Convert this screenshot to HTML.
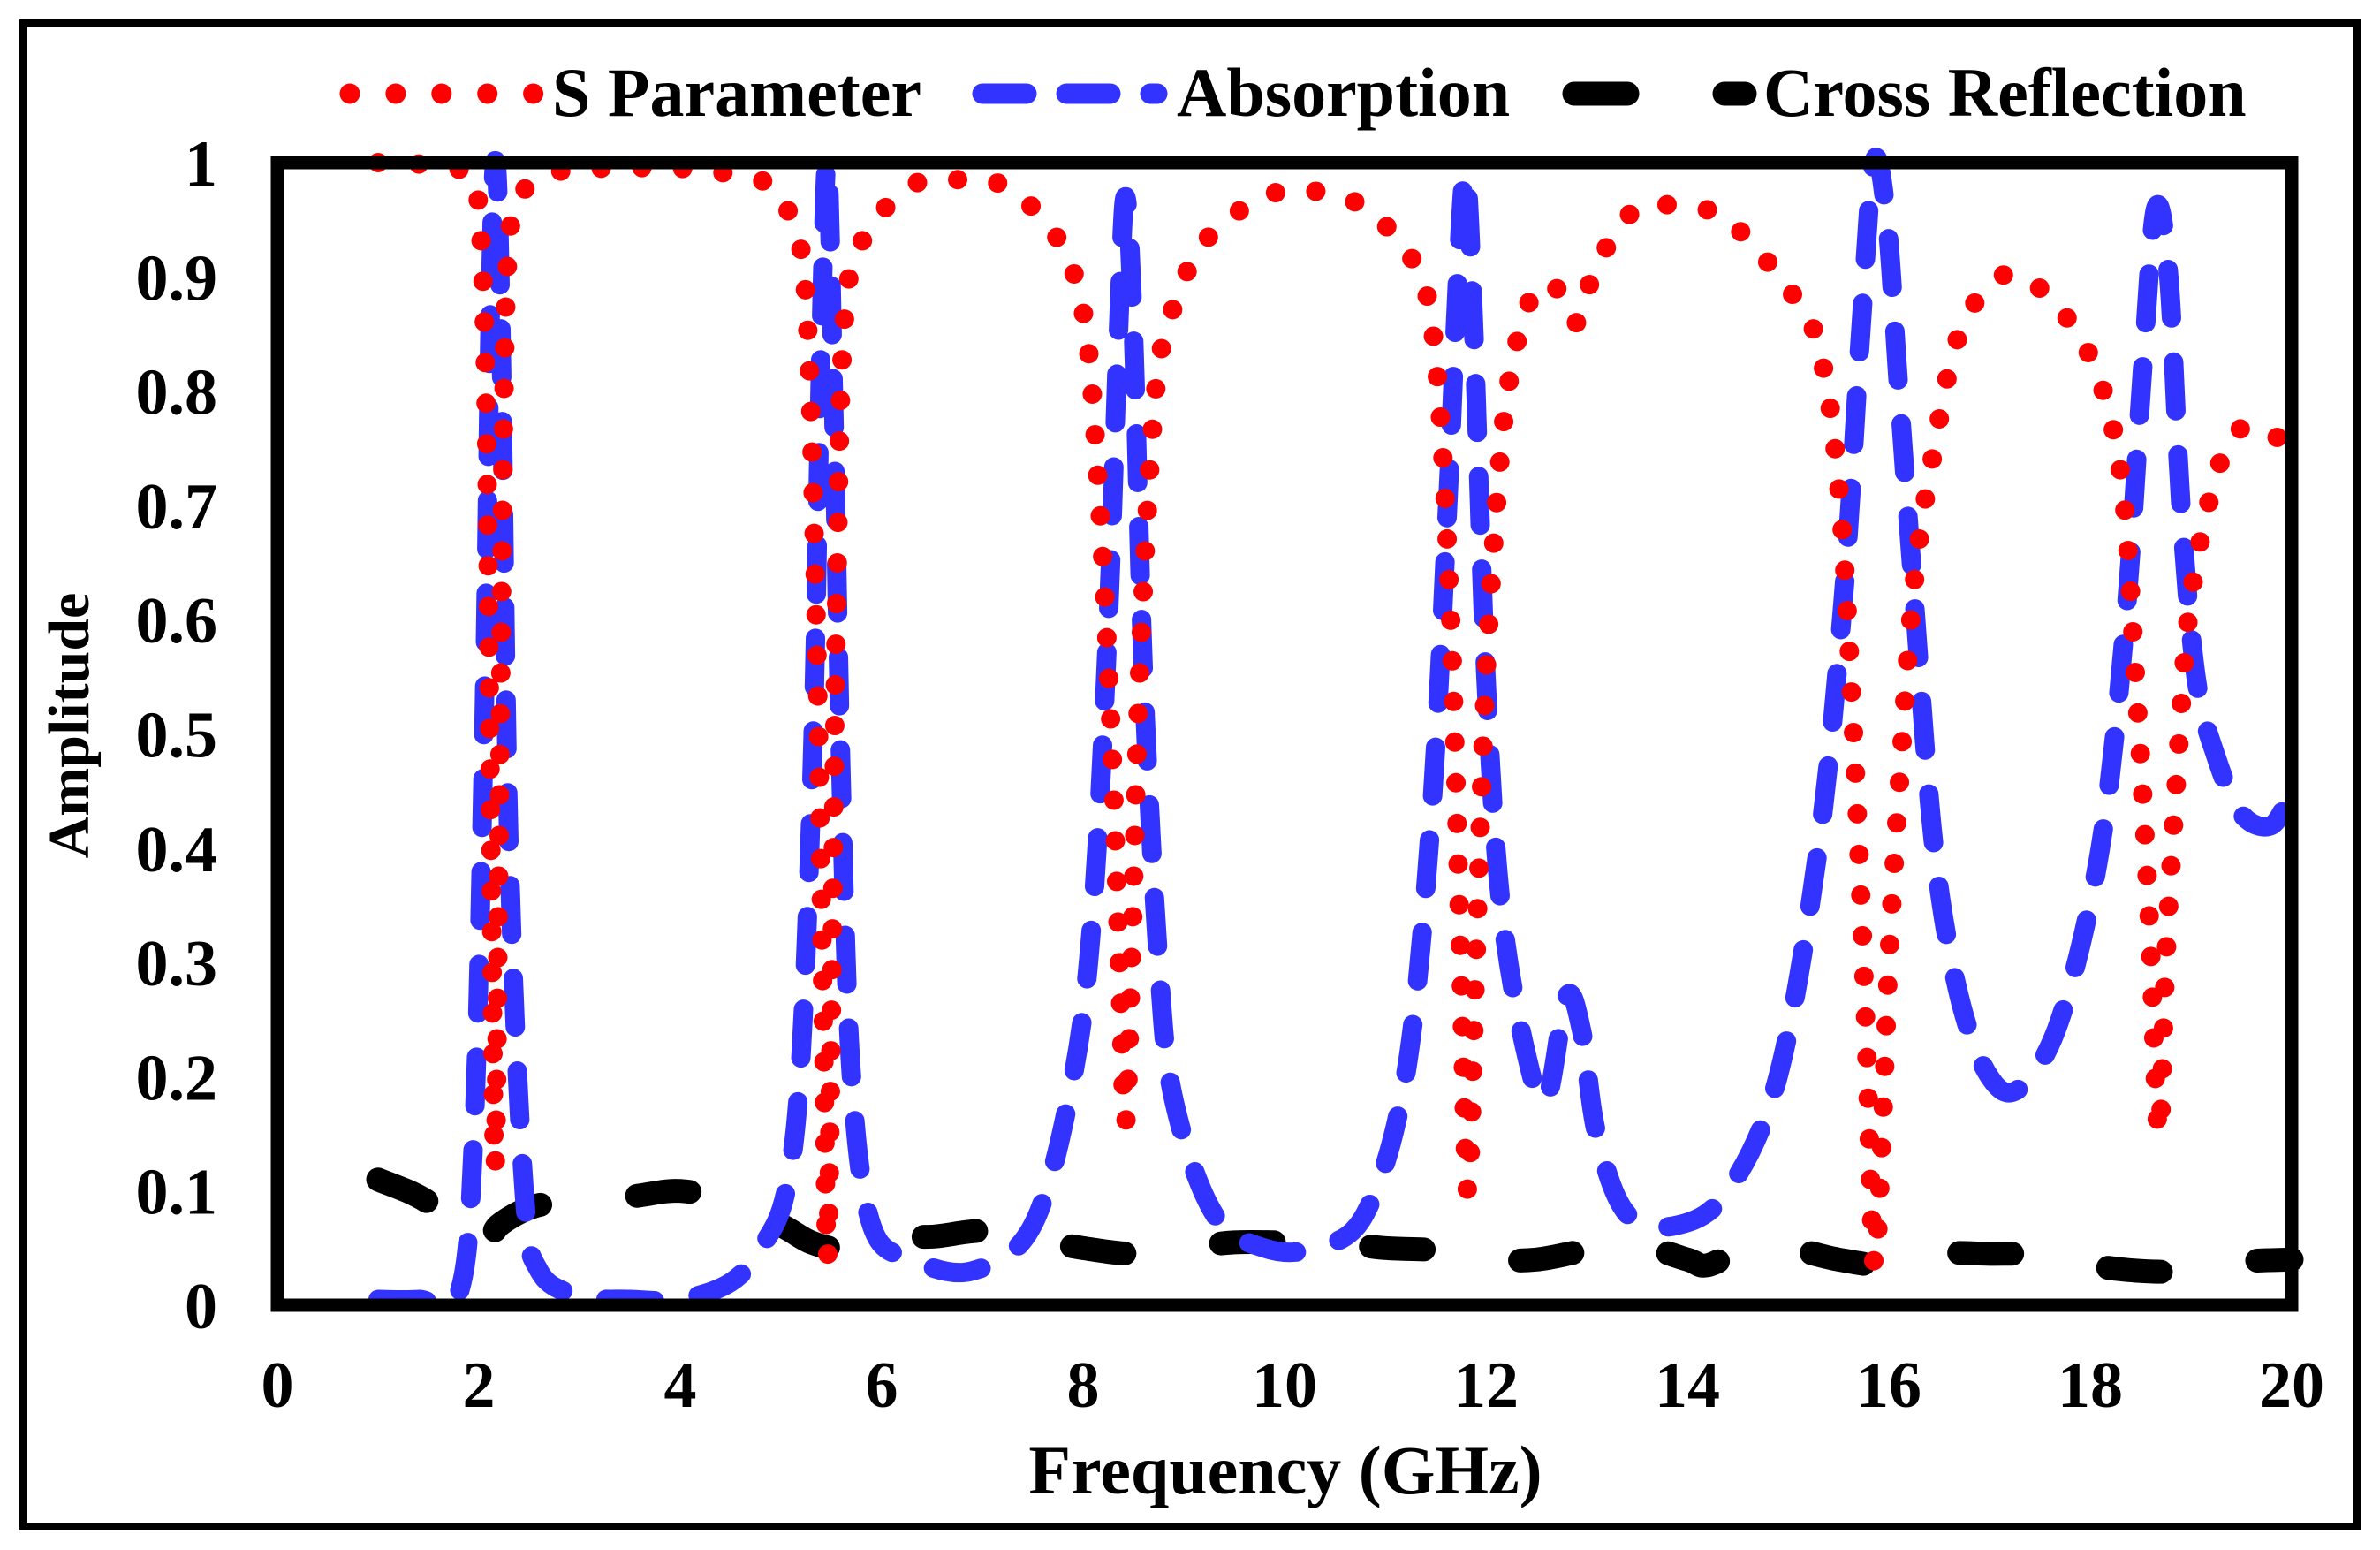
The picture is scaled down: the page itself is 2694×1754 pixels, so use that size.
<!DOCTYPE html>
<html><head><meta charset="utf-8"><style>
html,body{margin:0;padding:0;background:#fff}
svg{display:block}
text{font-family:"Liberation Serif",serif;font-weight:bold;fill:#000}
</style></head><body>
<svg id="chart" width="2694" height="1754" viewBox="0 0 2694 1754" xmlns="http://www.w3.org/2000/svg">
<rect x="26" y="26" width="2642" height="1701" fill="#fff" stroke="#000" stroke-width="8"/>
<g id="legend">
 <g>
  <line x1="396" y1="106" x2="604" y2="106" stroke="#f00" stroke-width="23" stroke-linecap="round" stroke-dasharray="0 51.9"/>
  <text x="625" y="131" font-size="78">S Parameter</text>
 </g>
 <g>
  <line x1="1112" y1="106" x2="1310" y2="106" stroke="#3333ff" stroke-width="23" stroke-linecap="round" stroke-dasharray="50 45"/>
  <text x="1332" y="131" font-size="78">Absorption</text>
 </g>
 <g>
  <line x1="1782" y1="106" x2="1975" y2="106" stroke="#000" stroke-width="27" stroke-linecap="round" stroke-dasharray="60 110"/>
  <text x="1996" y="131" font-size="78">Cross Reflection</text>
 </g>
</g>
<g id="ticks"></g>
<g id="series"></g>
<rect x="314" y="184" width="2280" height="1293" fill="none" stroke="#000" stroke-width="15"/>
<text x="1455" y="1690" font-size="78" text-anchor="middle">Frequency (GHz)</text>
<text x="0" y="0" font-size="66" text-anchor="middle" transform="translate(100,821) rotate(-90)">Amplitude</text>
</svg>
<script>
const xTicks=[0,2,4,6,8,10,12,14,16,18,20];
const yTicks=[0,0.1,0.2,0.3,0.4,0.5,0.6,0.7,0.8,0.9,1];
const yTickLabels=["0","0.1","0.2","0.3","0.4","0.5","0.6","0.7","0.8","0.9","1"];
const sFreq=[1,1.5,1.9,2.0,2.07,2.12,2.16,2.2,2.25,2.3,2.4,2.7,3.2,4,4.5,4.9,5.1,5.25,5.35,5.42,5.46,5.5,5.55,5.62,5.8,6.3,6.8,7.2,7.7,8.0,8.15,8.28,8.36,8.42,8.48,8.56,8.7,8.85,9.2,9.8,10.3,10.8,11.3,11.5,11.65,11.75,11.82,11.9,12.0,12.15,12.3,12.5,12.7,12.9,13.1,13.5,14.0,14.4,15.0,15.3,15.5,15.65,15.77,15.85,15.92,16.0,16.1,16.25,16.45,16.7,17.1,17.5,18.0,18.3,18.45,18.58,18.68,18.75,18.85,19.0,19.3,19.6,20];
const sVals=[1.0,0.998,0.99,0.96,0.8,0.4,0.12,0.4,0.8,0.93,0.97,0.99,0.995,0.995,0.99,0.98,0.95,0.88,0.6,0.25,0.04,0.25,0.6,0.85,0.93,0.98,0.985,0.98,0.94,0.87,0.72,0.5,0.3,0.16,0.3,0.55,0.78,0.86,0.93,0.97,0.975,0.96,0.91,0.83,0.6,0.3,0.1,0.3,0.55,0.75,0.84,0.89,0.89,0.86,0.91,0.96,0.96,0.95,0.89,0.84,0.72,0.5,0.25,0.04,0.12,0.3,0.45,0.63,0.75,0.85,0.9,0.89,0.83,0.73,0.55,0.35,0.15,0.3,0.45,0.62,0.74,0.77,0.75];
const aFreq=[1,1.4,1.8,1.95,2.05,2.12,2.17,2.22,2.3,2.45,2.6,3,3.5,4,4.5,4.8,5.05,5.2,5.32,5.4,5.46,5.52,5.6,5.7,5.9,6.3,6.9,7.5,7.9,8.1,8.25,8.35,8.42,8.5,8.6,8.75,8.9,9.3,9.8,10.3,10.8,11.2,11.45,11.62,11.72,11.8,11.88,12.0,12.15,12.4,12.6,12.8,12.95,13.1,13.4,13.9,14.4,14.9,15.3,15.55,15.72,15.85,15.98,16.1,16.25,16.45,16.7,17.0,17.3,17.7,18.1,18.35,18.52,18.65,18.78,18.9,19.05,19.25,19.5,19.8,20];
const aVals=[0.005,0.005,0.01,0.15,0.5,0.9,1.0,0.85,0.4,0.1,0.03,0.008,0.005,0.005,0.02,0.05,0.1,0.22,0.5,0.85,1.0,0.8,0.45,0.2,0.07,0.04,0.03,0.07,0.2,0.35,0.6,0.85,0.97,0.85,0.55,0.3,0.18,0.08,0.05,0.05,0.08,0.2,0.42,0.7,0.9,0.99,0.85,0.55,0.35,0.22,0.18,0.27,0.24,0.15,0.08,0.07,0.1,0.2,0.4,0.62,0.85,1.0,0.95,0.8,0.62,0.4,0.27,0.2,0.19,0.25,0.4,0.6,0.82,0.96,0.9,0.7,0.55,0.48,0.43,0.42,0.45];
const cFreq=[1,1.5,2.0,2.2,2.5,2.8,3.5,4,4.5,5.0,5.3,5.6,6,6.5,7,7.5,8,8.5,9,9.5,10,10.5,11,11.5,12,12.5,13,13.5,14,14.2,14.6,15,15.5,16,16.5,17,17.5,18,18.5,19,19.5,20];
const cVals=[0.11,0.09,0.05,0.07,0.085,0.09,0.095,0.1,0.09,0.07,0.055,0.05,0.06,0.06,0.065,0.058,0.05,0.045,0.05,0.055,0.055,0.055,0.05,0.048,0.04,0.04,0.048,0.052,0.04,0.035,0.05,0.05,0.04,0.035,0.045,0.045,0.044,0.035,0.03,0.03,0.038,0.04];
const NS="http://www.w3.org/2000/svg";
const X0=314,X1=2594,Y0=1477,Y1=184;
function xs(v){return X0+(v-0)/(20-0)*(X1-X0);}
function ys(v){return Y0-(v-0)/(1-0)*(Y0-Y1);}
const ticks=document.getElementById('ticks');
xTicks.forEach(function(t){
 const e=document.createElementNS(NS,'text');
 
 
 e.setAttribute('x',xs(t));e.setAttribute('y',1592);
 e.setAttribute('font-size','74');e.setAttribute('text-anchor','middle');
 e.textContent=String(t);ticks.appendChild(e);
});
yTicks.forEach(function(t,i){
 const e=document.createElementNS(NS,'text');
 
 
 e.setAttribute('x',246);e.setAttribute('y',ys(t)+26);
 e.setAttribute('font-size','74');e.setAttribute('text-anchor','end');
 e.textContent=yTickLabels[i];ticks.appendChild(e);
});
function pathD(f,v){
 const p=f.map(function(x,i){return [xs(x),ys(v[i])];});
 let d='M'+p[0][0]+','+p[0][1];
 for(let i=0;i<p.length-1;i++){
  const p0=p[Math.max(0,i-1)],p1=p[i],p2=p[i+1],p3=p[Math.min(p.length-1,i+2)];
  const c1x=p1[0]+(p2[0]-p0[0])/6,c1y=p1[1]+(p2[1]-p0[1])/6;
  const c2x=p2[0]-(p3[0]-p1[0])/6,c2y=p2[1]-(p3[1]-p1[1])/6;
  d+=' C'+c1x+','+c1y+' '+c2x+','+c2y+' '+p2[0]+','+p2[1];
 }
 return d;
}
const series=document.getElementById('series');
const c=document.createElementNS(NS,'path');


c.setAttribute('d',pathD(cFreq,cVals));
c.setAttribute('fill','none');c.setAttribute('stroke','#000');c.setAttribute('stroke-width','27');
c.setAttribute('stroke-linecap','round');c.setAttribute('stroke-dasharray','60 110');
series.appendChild(c);
const a=document.createElementNS(NS,'path');


a.setAttribute('d',pathD(aFreq,aVals));
a.setAttribute('fill','none');a.setAttribute('stroke','#3333ff');a.setAttribute('stroke-width','22');
a.setAttribute('stroke-linecap','round');a.setAttribute('stroke-dasharray','55 50');
series.appendChild(a);
const s=document.createElementNS(NS,'path');


s.setAttribute('d',pathD(sFreq,sVals));
s.setAttribute('fill','none');s.setAttribute('stroke','#ff0000');s.setAttribute('stroke-width','22');
s.setAttribute('stroke-linecap','round');s.setAttribute('stroke-dasharray','0 46');
series.appendChild(s);
</script>
</body></html>
